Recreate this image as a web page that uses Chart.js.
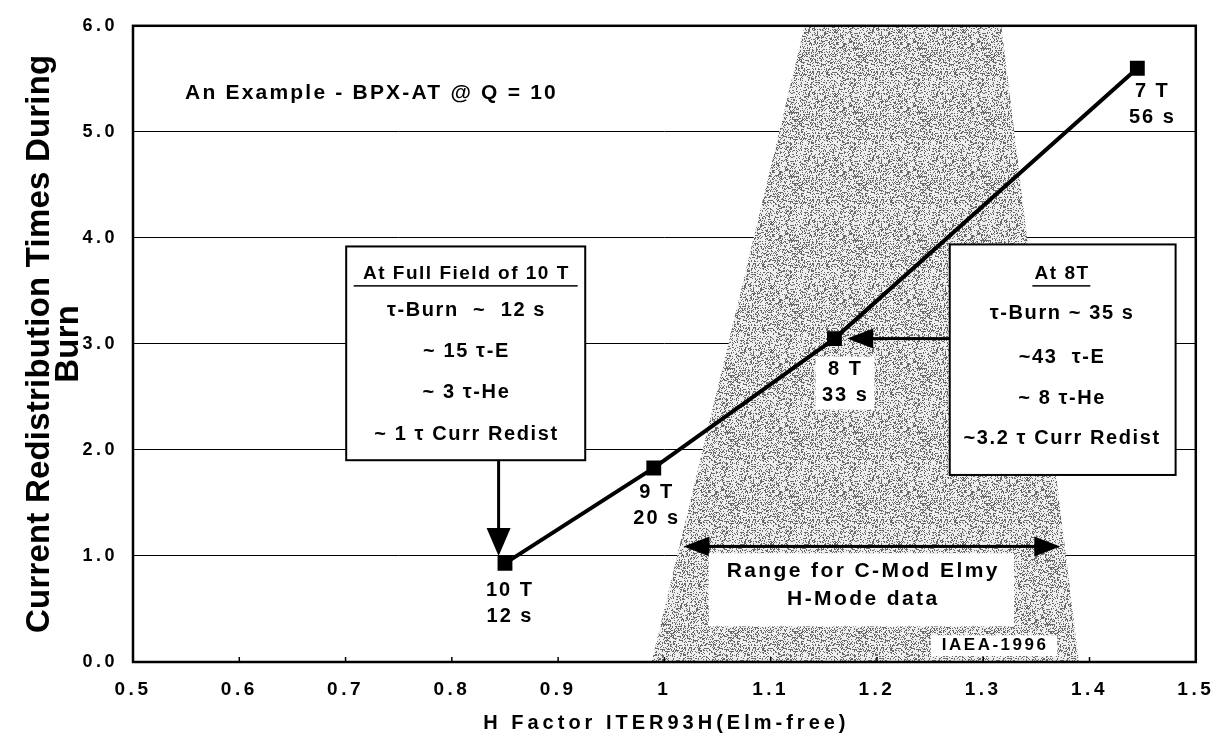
<!DOCTYPE html>
<html>
<head>
<meta charset="utf-8">
<script src="https://cdn.jsdelivr.net/npm/chart.js@4.4.1/dist/chart.umd.min.js"></script>
<style>
  body { margin: 0; background: #fff; }
  #wrap { width: 1225px; height: 738px; }
</style>
</head>
<body>
<div id="wrap"><canvas id="burnChart"></canvas></div>
<script>
// The data represented (BPX-AT @ Q = 10)
const hFactor = [0.85, 0.99, 1.16, 1.445];
const redistTime = [0.93, 1.83, 3.05, 5.6];
const fieldLabels = ["10 T", "9 T", "8 T", "7 T"];
const burnLabels = ["12 s", "20 s", "33 s", "56 s"];

// Range of the C-Mod Elmy H-mode data (shaded band)
const bandH = [0.988, 1.132, 1.317, 1.39];
const bandTime = [0, 6, 6, 0];

// Axis ticks
const xTicks = [0.5, 0.6, 0.7, 0.8, 0.9, 1.0, 1.1, 1.2, 1.3, 1.4, 1.5];
const xTickLabels = ["0.5", "0.6", "0.7", "0.8", "0.9", "1", "1.1", "1.2", "1.3", "1.4", "1.5"];
const yTicks = [0, 1, 2, 3, 4, 5, 6];
const yTickLabels = ["0.0", "1.0", "2.0", "3.0", "4.0", "5.0", "6.0"];

const FONT = "'Liberation Sans', Arial, Helvetica, sans-serif";

// stippled grey for the band (fixed dither, no randomness)
function makeStipple() {
  const c = document.createElement("canvas");
  c.width = 64;
  c.height = 64;
  const g = c.getContext("2d");
  const img = g.createImageData(64, 64);
  for (let y = 0; y < 64; y++) {
    for (let x = 0; x < 64; x++) {
      const h = ((x * 73856093) ^ (y * 19349663) ^ (x * y * 83492791)) >>> 0;
      const v = (h % 100) < 31 ? 105 : 238;
      const k = (y * 64 + x) * 4;
      img.data[k] = v;
      img.data[k + 1] = v;
      img.data[k + 2] = v;
      img.data[k + 3] = 255;
    }
  }
  g.putImageData(img, 0, 0);
  return c;
}

function txt(ctx, s, x, y, size, spacing, align) {
  ctx.font = "bold " + size + "px " + FONT;
  ctx.letterSpacing = (spacing || 0) + "px";
  ctx.textAlign = align || "center";
  ctx.textBaseline = "middle";
  ctx.fillStyle = "#000";
  // letterSpacing leaves a trailing gap, shift so the ink is centred
  const shift = (align === "left") ? 0 : (spacing || 0) / 2;
  ctx.fillText(s, x + shift, y);
}

function arrowHead(ctx, tx, ty, dx, dy, len, half) {
  // tip at (tx,ty), pointing along (dx,dy)
  const bx = tx - dx * len, by = ty - dy * len;
  ctx.beginPath();
  ctx.moveTo(tx, ty);
  ctx.lineTo(bx - dy * half, by + dx * half);
  ctx.lineTo(bx + dy * half, by - dx * half);
  ctx.closePath();
  ctx.fill();
}

function box(ctx, x0, y0, x1, y1, lw) {
  ctx.fillStyle = "#fff";
  ctx.fillRect(x0, y0, x1 - x0, y1 - y0);
  if (lw) {
    ctx.strokeStyle = "#000";
    ctx.lineWidth = lw;
    ctx.strokeRect(x0, y0, x1 - x0, y1 - y0);
  }
}

// annotations, frame, titles
const notesPlugin = {
  id: "notes",
  beforeDraw(chart) {
    chart.ctx.letterSpacing = "3.5px";
  },
  beforeDatasetsDraw(chart) {
    chart.ctx.letterSpacing = "0px";
  },
  afterDatasetsDraw(chart) {
    const ctx = chart.ctx;
    const xs = chart.scales.x, ys = chart.scales.y;
    const X = (v) => xs.getPixelForValue(v);
    const Y = (v) => ys.getPixelForValue(v);
    ctx.save();

    // point labels
    const offs = [[4, 27], [2, 25], [10, 31], [14, 23]];
    hFactor.forEach((h, i) => {
      const px = X(h) + offs[i][0], py = Y(redistTime[i]) + offs[i][1];
      if (i === 2) box(ctx, px - 29, py - 13, px + 30, py + 40, 0);
      txt(ctx, fieldLabels[i], px, py, 20, 2);
      txt(ctx, burnLabels[i], px, py + 26, 20, 2);
    });

    txt(ctx, "An Example - BPX-AT @ Q = 10", X(0.549), Y(5.365), 21, 2.2, "left");

    // left box: full field
    box(ctx, X(0.7006), Y(3.919), X(0.9255), Y(1.903), 2);
    const lc = X(0.813);
    txt(ctx, "At Full Field of 10 T", lc, Y(3.658), 19, 1.5);
    ctx.fillStyle = "#000";
    ctx.fillRect(lc - 112, Y(3.658) + 11, 224, 1.5);
    txt(ctx, "\u03c4-Burn  ~  12 s", lc, Y(3.312), 20, 1.6);
    txt(ctx, "~ 15 \u03c4-E", lc, Y(2.93), 20, 1.6);
    txt(ctx, "~ 3 \u03c4-He", lc, Y(2.538), 20, 1.6);
    txt(ctx, "~ 1 \u03c4 Curr Redist", lc, Y(2.146), 20, 1.6);
    ctx.fillStyle = "#000";
    ctx.fillRect(X(0.844) - 1.5, Y(1.903), 3, Y(1.25) - Y(1.903));
    arrowHead(ctx, X(0.844), Y(1.0), 0, 1, 28, 12);

    // right box: 8 T
    box(ctx, X(1.2685), Y(3.938), X(1.481), Y(1.764), 2);
    const rc = X(1.3735);
    txt(ctx, "At 8T", rc, Y(3.658), 19, 1.5);
    ctx.fillStyle = "#000";
    ctx.fillRect(rc - 29, Y(3.658) + 11, 58, 1.5);
    txt(ctx, "\u03c4-Burn ~ 35 s", rc, Y(3.285), 20, 1.6);
    txt(ctx, "~43  \u03c4-E", rc, Y(2.874), 20, 1.6);
    txt(ctx, "~ 8 \u03c4-He", rc, Y(2.482), 20, 1.6);
    txt(ctx, "~3.2 \u03c4 Curr Redist", rc, Y(2.109), 20, 1.6);
    ctx.fillStyle = "#000";
    ctx.fillRect(X(1.195), Y(3.05) - 1.5, X(1.2685) - X(1.195), 3);
    arrowHead(ctx, X(1.172), Y(3.05), -1, 0, 26, 10);

    // range arrow and label
    const ay = Y(1.09);
    ctx.fillRect(X(1.035), ay - 1.5, X(1.355) - X(1.035), 3);
    arrowHead(ctx, X(1.018), ay, -1, 0, 26, 10);
    arrowHead(ctx, X(1.3725), ay, 1, 0, 26, 10);
    box(ctx, X(1.0417), Y(1.026), X(1.329), Y(0.336), 0);
    txt(ctx, "Range for C-Mod Elmy", X(1.186), Y(0.858), 21, 2.4);
    txt(ctx, "H-Mode data", X(1.186), Y(0.588), 21, 2.4);
    box(ctx, X(1.2507), Y(0.252), X(1.3697), Y(0.056), 0);
    txt(ctx, "IAEA-1996", X(1.31), Y(0.159), 17, 2.5);

    // frame and inner tick marks
    const a = chart.chartArea;
    ctx.strokeStyle = "#000";
    ctx.lineWidth = 2.5;
    ctx.strokeRect(a.left, a.top, a.right - a.left, a.bottom - a.top);
    ctx.lineWidth = 1.5;
    ctx.beginPath();
    xTicks.forEach((v) => {
      ctx.moveTo(X(v), a.bottom);
      ctx.lineTo(X(v), a.bottom - 5);
    });
    ctx.stroke();
    ctx.restore();
  },
  afterDraw(chart) {
    const ctx = chart.ctx;
    const a = chart.chartArea;
    ctx.save();
    txt(ctx, "H Factor ITER93H(Elm-free)", (a.left + a.right) / 2, 723, 20, 4);
    ctx.translate(0, (a.top + a.bottom) / 2);
    ctx.rotate(-Math.PI / 2);
    txt(ctx, "Current Redistribution Times During", 0, 40, 33, 0.2);
    txt(ctx, "Burn", 0, 69, 33, 0.2);
    ctx.restore();
  },
};

const canvasElement = document.querySelector("#burnChart");
const stipple = canvasElement.getContext("2d").createPattern(makeStipple(), "repeat");

const config = {
  type: "scatter",
  data: {
    datasets: [
      {
        label: "C-Mod range",
        data: bandH.map((h, i) => ({ x: h, y: bandTime[i] })),
        showLine: true,
        fill: "origin",
        backgroundColor: stipple,
        borderWidth: 0,
        pointRadius: 0,
        order: 2,
      },
      {
        label: "BPX-AT",
        data: hFactor.map((h, i) => ({ x: h, y: redistTime[i] })),
        showLine: true,
        borderColor: "#000",
        borderWidth: 4,
        backgroundColor: "#000",
        pointStyle: "rect",
        pointRadius: 10.5,
        pointBorderWidth: 0,
        order: 1,
      },
    ],
  },
  options: {
    responsive: true,
    maintainAspectRatio: false,
    animation: false,
    layout: { padding: { top: 19, right: 25, left: 0, bottom: 0 } },
    plugins: {
      legend: { display: false },
      tooltip: { enabled: false },
    },
    scales: {
      x: {
        type: "linear",
        min: 0.5,
        max: 1.5,
        afterBuildTicks: (s) => { s.ticks = xTicks.map((v) => ({ value: v })); },
        afterFit: (s) => { s.height = 76; },
        grid: { display: false, drawTicks: false },
        border: { display: false },
        ticks: {
          padding: 16,
          color: "#000",
          font: { family: FONT, size: 19, weight: "bold" },
          maxRotation: 0,
          autoSkip: false,
          callback: (v, i) => xTickLabels[i],
        },
      },
      y: {
        type: "linear",
        min: 0,
        max: 6,
        afterBuildTicks: (s) => { s.ticks = yTicks.map((v) => ({ value: v })); },
        afterFit: (s) => { s.width = 133; },
        grid: { color: "#000", lineWidth: 1, drawTicks: false },
        border: { display: false },
        ticks: {
          padding: 15,
          color: "#000",
          font: { family: FONT, size: 18, weight: "bold" },
          callback: (v, i) => yTickLabels[i],
        },
      },
    },
  },
  plugins: [notesPlugin],
};

const burnChart = new Chart(canvasElement, config);
</script>
</body>
</html>
